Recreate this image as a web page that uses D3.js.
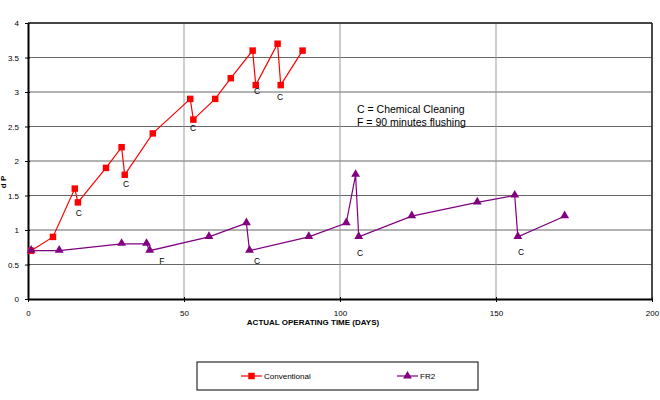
<!DOCTYPE html>
<html>
<head>
<meta charset="utf-8">
<script src="https://cdn.jsdelivr.net/npm/d3@7"></script>
<style>
body { margin: 0; background: #fff; }
text { font-family: "Liberation Sans", Arial, sans-serif; }
</style>
</head>
<body>
<div id="chart"></div>
<script>
// data
var convDays = [1, 8, 15, 16, 25, 30, 31, 40, 52, 53, 60, 65, 72, 73, 80, 81, 88];
var convDP   = [0.7, 0.9, 1.6, 1.4, 1.9, 2.2, 1.8, 2.4, 2.9, 2.6, 2.9, 3.2, 3.6, 3.1, 3.7, 3.1, 3.6];
var fr2Days  = [1, 10, 30, 38, 39, 58, 70, 71, 90, 102, 105, 106, 123, 144, 156, 157, 172];
var fr2DP    = [0.7, 0.7, 0.8, 0.8, 0.7, 0.9, 1.1, 0.7, 0.9, 1.1, 1.8, 0.9, 1.2, 1.4, 1.5, 0.9, 1.2];
var noteText = ["C", "C", "C", "C", "C", "F", "C", "C", "C"];
var noteDay  = [16.3, 31.4, 52.9, 73.4, 80.8, 42.9, 73.4, 106.4, 158];
var noteDP   = [1.25, 1.67, 2.48, 3.02, 2.93, 0.55, 0.55, 0.67, 0.68];
var xTicks = [0, 50, 100, 150, 200];
var yTicks = [0, 0.5, 1, 1.5, 2, 2.5, 3, 3.5, 4];
var seriesNames = ["Conventional", "FR2"];

var W = 660, H = 400;
var margin = {top: 23, right: 8, bottom: 101, left: 28};
var width = W - margin.left - margin.right,
    height = H - margin.top - margin.bottom;

var svg = d3.select("#chart").append("svg")
  .attr("width", W).attr("height", H);
var g = svg.append("g")
  .attr("transform", "translate(" + margin.left + "," + margin.top + ")");

var x = d3.scaleLinear().domain([0, 200]).range([0, width]);
var y = d3.scaleLinear().domain([0, 4]).range([height, 0]);

// grid
g.selectAll(".hg").data(yTicks.slice(1)).join("line")
  .attr("x1", 0).attr("x2", width)
  .attr("y1", d => y(d)).attr("y2", d => y(d))
  .attr("stroke", "#666").attr("stroke-width", 1);
g.selectAll(".vg").data(xTicks.slice(1)).join("line")
  .attr("y1", 0).attr("y2", height)
  .attr("x1", d => x(d)).attr("x2", d => x(d))
  .attr("stroke", "#999").attr("stroke-width", 1);

// axes
var xAxis = g.append("g")
  .attr("transform", "translate(0," + height + ")")
  .call(d3.axisBottom(x).tickValues(xTicks).tickFormat(d => d)
    .tickSize(4).tickSizeOuter(0).tickPadding(7));
var yAxis = g.append("g")
  .call(d3.axisLeft(y).tickValues(yTicks).tickFormat(d => d)
    .tickSize(4).tickSizeOuter(0).tickPadding(5));
[xAxis, yAxis].forEach(function(a) {
  a.select(".domain").attr("stroke", "#000").attr("stroke-width", 2);
  a.selectAll("text").attr("font-size", 8).attr("fill", "#000")
    .attr("font-family", "Liberation Sans, Arial, sans-serif");
});
xAxis.selectAll(".tick line").attr("transform", "translate(0,-2)").attr("y2", 5);
yAxis.selectAll(".tick line").attr("transform", "translate(2,0)").attr("x2", -5);

// top / right frame
g.append("line").attr("x1", 0).attr("x2", width).attr("y1", 0).attr("y2", 0)
  .attr("stroke", "#222").attr("stroke-width", 1.5);
g.append("line").attr("x1", width).attr("x2", width).attr("y1", 0).attr("y2", height)
  .attr("stroke", "#222").attr("stroke-width", 1.5);

// series
var line = d3.line().x(d => x(d[0])).y(d => y(d[1]));
var conv = convDays.map((d, i) => [d, convDP[i]]);
var fr2 = fr2Days.map((d, i) => [d, fr2DP[i]]);

g.append("path").datum(conv).attr("d", line)
  .attr("fill", "none").attr("stroke", "#ff0000").attr("stroke-width", 1.2);
g.append("path").datum(fr2).attr("d", line)
  .attr("fill", "none").attr("stroke", "#800080").attr("stroke-width", 1.2);

var sq = d3.symbol().type(d3.symbolSquare).size(42);
var tri = d3.symbol().type(d3.symbolTriangle).size(34);

g.selectAll(".cpt").data(conv).join("path")
  .attr("d", sq)
  .attr("transform", d => "translate(" + x(d[0]) + "," + y(d[1]) + ")")
  .attr("fill", "#ff0000");
g.selectAll(".fpt").data(fr2).join("path")
  .attr("d", tri)
  .attr("transform", d => "translate(" + x(d[0]) + "," + (y(d[1]) - 0.5) + ")")
  .attr("fill", "#800080");

// annotations
g.selectAll(".note").data(noteText).join("text")
  .attr("x", (d, i) => x(noteDay[i]))
  .attr("y", (d, i) => y(noteDP[i]))
  .attr("text-anchor", "middle").attr("dy", "0.35em")
  .attr("font-size", 8.5).attr("fill", "#000")
  .text(d => d);

svg.append("text").attr("x", 357).attr("y", 113)
  .attr("font-size", 10.5).text("C = Chemical Cleaning");
svg.append("text").attr("x", 357).attr("y", 126)
  .attr("font-size", 10.5).text("F = 90 minutes flushing");

// axis titles
svg.append("text").attr("x", 313).attr("y", 325)
  .attr("text-anchor", "middle").attr("font-size", 8).attr("font-weight", "bold")
  .text("ACTUAL OPERATING TIME (DAYS)");
svg.append("text")
  .attr("transform", "translate(6,182) rotate(-90)")
  .attr("text-anchor", "middle").attr("font-size", 8).attr("font-weight", "bold")
  .text("d P");

// legend
var lg = svg.append("g");
lg.append("rect").attr("x", 197).attr("y", 362).attr("width", 281).attr("height", 28)
  .attr("fill", "#fff").attr("stroke", "#000").attr("stroke-width", 1);
var lx = [241, 397];
var lcol = ["#ff0000", "#800080"];
seriesNames.forEach(function(name, i) {
  lg.append("line").attr("x1", lx[i]).attr("x2", lx[i] + 21)
    .attr("y1", 376).attr("y2", 376).attr("stroke", lcol[i]).attr("stroke-width", 1.2);
  lg.append("path").attr("d", i === 0 ? sq : tri)
    .attr("transform", "translate(" + (lx[i] + 10.5) + ",376)")
    .attr("fill", lcol[i]);
  lg.append("text").attr("x", lx[i] + 23).attr("y", 379)
    .attr("font-size", 8).text(name);
});
</script>
</body>
</html>
